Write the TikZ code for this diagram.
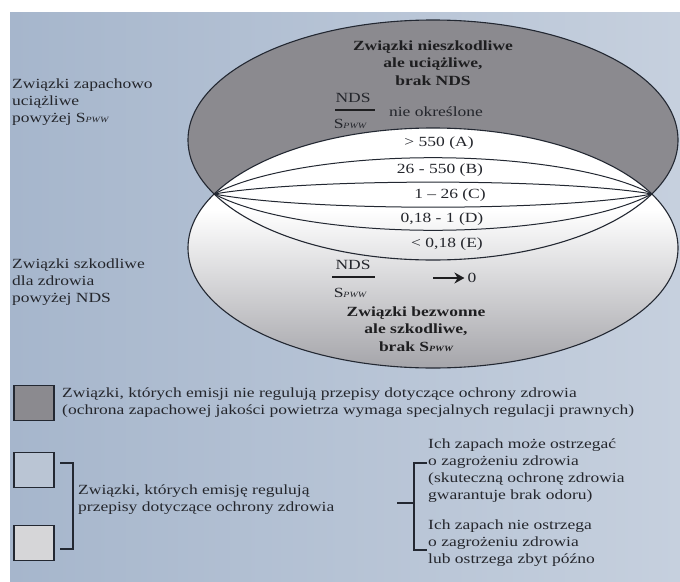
\documentclass[tikz,border=0pt]{standalone}
\usepackage{fontspec}
\setmainfont{Liberation Serif}[FakeStretch=1.25]
\usetikzlibrary{arrows.meta}
\definecolor{bgA}{RGB}{166,182,204}
\definecolor{bgB}{RGB}{198,208,222}
\definecolor{darkfill}{RGB}{139,138,143}
\definecolor{egray}{RGB}{165,165,170}
\definecolor{txt}{RGB}{36,38,44}
\definecolor{btxt}{RGB}{30,30,32}
\definecolor{edge}{RGB}{35,40,50}
\definecolor{lightsq}{RGB}{186,197,212}
\definecolor{greysq}{RGB}{214,214,216}
\pgfdeclareverticalshading{ellshade}{100bp}{color(0bp)=(egray); color(25bp)=(egray); color(58bp)=(white); color(100bp)=(white)}
\newcommand\pwwsub{{\fontsize{8}{8}\selectfont\itshape PWW}}
\tikzset{
  lbl/.style={text=txt, inner sep=0pt, font=\fontsize{14}{17}\selectfont},
  bld/.style={text=btxt, inner sep=0pt, align=center, font=\fontsize{14}{17.5}\selectfont\bfseries},
  outline/.style={draw=edge, line width=1.1pt},
  lensline/.style={draw=edge, line width=1.0pt},
  fracbar/.style={draw=btxt, line width=1.6pt},
  sqbox/.style={draw=edge, line width=1.1pt, minimum width=40pt, minimum height=35pt, inner sep=0pt},
  brk/.style={draw=edge, line width=1.4pt}
}
\begin{document}
\begin{tikzpicture}[x=1pt, y=-1pt]
\useasboundingbox (0,0) rectangle (680,581);
\fill[white] (0,0) rectangle (680,581);
\shade[left color=bgA, right color=bgB] (10,12) rectangle (680,581);
% ellipses
\fill[darkfill] (433,140) ellipse [x radius=245pt, y radius=120pt];
\shade[shading=ellshade] (433,248) ellipse [x radius=245pt, y radius=120pt];
\draw[outline] (433,140) ellipse [x radius=245pt, y radius=120pt];
\draw[outline] (433,248) ellipse [x radius=245pt, y radius=120pt];
% lens lines
\foreach \k in {0.55,0.18,-0.2,-0.55}{
  \draw[lensline] plot[domain=26.744:153.256, samples=90, smooth] ({433+245*cos(\x)}, {194-\k*(120*sin(\x)-54)});
}
% left labels
\node[lbl, anchor=west, align=left] (lz) at (12,102) {Związki zapachowo\\uciążliwe\\powyżej S\pwwsub};
\node[lbl, anchor=west, align=left] (ls) at (12,282) {Związki szkodliwe\\dla zdrowia\\powyżej NDS};
% top ellipse text
\node[bld] (tn) at (433,63) {Związki nieszkodliwe\\ale uciążliwe,\\brak NDS};
\node[lbl] (nds1) at (353,98) {NDS};
\node[lbl] (sp1) at (350,124) {S\pwwsub};
\coordinate (b1l) at (335,110);
\coordinate (b1r) at (375,110);
\draw[fracbar] (b1l) -- (b1r);
\node[lbl] (nieo) at (436,112) {nie określone};
% lens labels
\node[lbl] (la) at (439,143) {> 550 (A)};
\node[lbl] (lb) at (440,170) {26 - 550 (B)};
\node[lbl] (lc) at (450,195) {1 – 26 (C)};
\node[lbl] (ld) at (442,219) {0,18 - 1 (D)};
\node[lbl] (le) at (447,244) {< 0,18 (E)};
% bottom fraction
\node[lbl] (nds2) at (353,265) {NDS};
\node[lbl] (sp2) at (350,293) {S\pwwsub};
\coordinate (b2l) at (332,277);
\coordinate (b2r) at (375,277);
\draw[fracbar] (b2l) -- (b2r);
\node[lbl] (zero) at (472,278) {0};
\coordinate (arrs) at (433,278);
\draw[draw=btxt, line width=2.4pt, -{Stealth[length=10pt,width=11pt]}, shorten >=3pt] (arrs) -- (zero.west);
% bottom ellipse text
\node[bld] (bn) at (416,329) {Związki bezwonne\\ale szkodliwe,\\brak S\pwwsub};
% legend
\node[sqbox, fill=darkfill] (sqd) at (34,403) {};
\node[lbl, anchor=west, align=left] (ltd) at (62,403) {Związki, których emisji nie regulują przepisy dotyczące ochrony zdrowia\\(ochrona zapachowej jakości powietrza wymaga specjalnych regulacji prawnych)};
\node[sqbox, fill=lightsq] (sql) at (34,470) {};
\node[sqbox, fill=greysq] (sqg) at (34,543) {};
\coordinate (lb1) at (60,463);
\coordinate (lb2) at (73,463);
\coordinate (lb3) at (73,549);
\coordinate (lb4) at (60,549);
\draw[brk] (lb1) -- (lb2) -- (lb3) -- (lb4);
\node[lbl, anchor=west, align=left] (ltl) at (78,500) {Związki, których emisję regulują\\przepisy dotyczące ochrony zdrowia};
\coordinate (mt1) at (397,503);
\coordinate (mt2) at (414,503);
\draw[brk] (mt1) -- (mt2);
\coordinate (rb1) at (427,463);
\coordinate (rb2) at (414,463);
\coordinate (rb3) at (414,550);
\coordinate (rb4) at (427,550);
\draw[brk] (rb1) -- (rb2) -- (rb3) -- (rb4);
\node[lbl, anchor=west, align=left] (rt1) at (428,471) {Ich zapach może ostrzegać\\o zagrożeniu zdrowia\\(skuteczną ochronę zdrowia\\gwarantuje brak odoru)};
\node[lbl, anchor=west, align=left] (rt2) at (428,543) {Ich zapach nie ostrzega\\o zagrożeniu zdrowia\\lub ostrzega zbyt późno};
\end{tikzpicture}
\end{document}
